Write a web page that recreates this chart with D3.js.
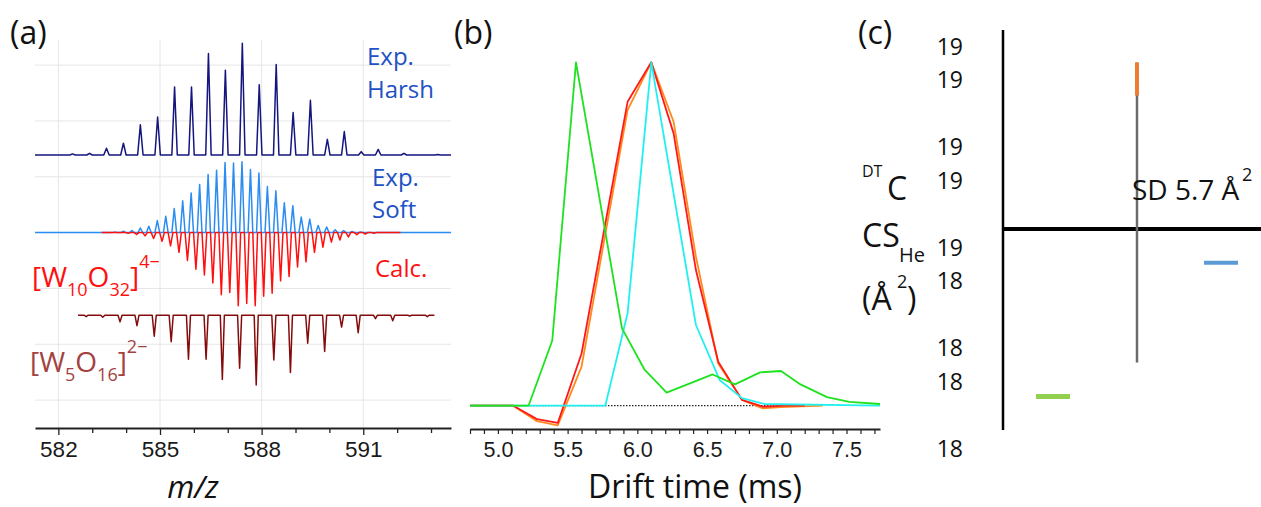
<!DOCTYPE html>
<html><head><meta charset="utf-8">
<script src="https://cdn.jsdelivr.net/npm/d3@7"></script>
<style>body{margin:0;background:#fff} svg{display:block}</style>
</head><body>
<svg id="chart" width="1261" height="507"></svg>
<script>
// ===== Panel (a): isotope peaks (m/z, relative intensity %) =====
const harshMz  = [582.42,582.92,583.42,583.92,584.42,584.93,585.43,585.93,586.43,586.93,587.43,587.93,588.43,588.93,589.44,589.94,590.44,590.94,591.44,592.2,593.2];
const harshInt = [1,1.5,6,10.5,27,34,61,61,91,76,100,63,81,38,49,14,21,3,5,1.5,0.5];
const softMz  = [583.67,583.92,584.17,584.42,584.67,584.92,585.17,585.42,585.67,585.92,586.17,586.42,586.67,586.92,587.17,587.42,587.67,587.92,588.17,588.42,588.67,588.92,589.17,589.42,589.67,589.92,590.17,590.42,590.67,590.92];
const softInt = [1,2,3,6.5,9,17,23,34,45,56,68,82,88,99,98,100,89,84,65,59,42,38,22,19,10,8,4,3,1.5,1];
const calcMz  = [584.06,584.31,584.56,584.81,585.06,585.31,585.56,585.81,586.06,586.31,586.56,586.81,587.06,587.31,587.56,587.81,588.06,588.31,588.56,588.81,589.06,589.31,589.56,589.81,590.06,590.31,590.56,590.81,591.06,591.31];
const calcInt = [1,2.5,4.5,8,12,18,27,38,50,58,69,85,82,100,97,100,87,83,66,60,47,40,27,20,13,10,6,3,2,1];
const w5Mz  = [582.82,583.31,583.82,584.32,584.83,585.33,585.84,586.36,586.84,587.35,587.84,588.36,588.85,589.36,589.86,590.36,590.85,591.36,591.87,592.37,592.89];
const w5Int = [2,3,9.5,15,30,38,63,63,92,76,100,64,82,40,52,17,25,5,8,1,2];
const aTicks = [582,583,584,585,586,587,588,589,590,591,592,593];
const aTickLabels = [582,585,588,591];
const aGridLevels = [0,1,2,3,4,5,6];

// ===== Panel (b): arrival time distributions (normalised) =====
const greenT = [4.80,5.22,5.39,5.56,5.89,6.05,6.21,6.54,6.70,6.88,7.03,7.17,7.36,7.52,7.74];
const greenV = [0,0,0.19,1.0,0.225,0.106,0.038,0.091,0.062,0.097,0.101,0.062,0.025,0.011,0.005];
const redT = [4.80,5.11,5.28,5.43,5.60,5.93,6.10,6.26,6.42,6.58,6.75,6.90,7.06,7.20];
const redV = [0,0,-0.039,-0.05,0.152,0.885,1.0,0.793,0.395,0.128,0.017,-0.003,0,0];
const orangeT = [4.80,5.11,5.28,5.43,5.60,5.93,6.10,6.26,6.42,6.58,6.75,6.90,7.03,7.33];
const orangeV = [0,0,-0.045,-0.057,0.114,0.861,1.0,0.827,0.434,0.123,0.017,-0.008,-0.004,0];
const cyanT = [4.80,5.77,5.93,6.10,6.42,6.59,6.75,6.91,7.74];
const cyanV = [0,0,0.269,1.0,0.235,0.075,0.022,0.005,0];
const baseT = [4.80,7.05];
const baseV = [0,0];
const bTicks = d3.range(48,78).map(d => d/10);
const bTickLabels = [5.0,5.5,6.0,6.5,7.0,7.5];

// ===== Panel (c): CCS values =====
const cCategories = ["A","B","C"];
const cDashValues = {A:18.054, C:18.453};
const cErrLow = 18.155, cErrHigh = 19.051;
const cBarLow = 18.952, cBarHigh = 19.051;
const cAxisCross = 18.554;
const cTickValues = [17.9,18.1,18.2,18.4,18.5,18.7,18.8,19.0,19.1];
const cTickLabels = ["18","18","18","18","19","19","19","19","19"];

const svg = d3.select("#chart");
const SANS = "'Open Sans', sans-serif";
const ARIAL = "'Liberation Sans', Arial, sans-serif";

// ---------------- Panel (a) ----------------
const xA = d3.scaleLinear().domain([581.31,593.59]).range([35,451]);
const yA = d3.scaleLinear().domain([-0.5,6.45]).range([428,40]);
const gA = svg.append("g");
gA.selectAll("line.hg").data(aGridLevels).join("line")
  .attr("x1",xA.range()[0]).attr("x2",xA.range()[1])
  .attr("y1",d=>yA(d)).attr("y2",d=>yA(d))
  .attr("stroke","#e6e6e6").attr("stroke-width",1);
gA.selectAll("line.vg").data(aTickLabels).join("line")
  .attr("x1",d=>xA(d)).attr("x2",d=>xA(d))
  .attr("y1",yA(6.45)).attr("y2",yA(-0.5))
  .attr("stroke","#e6e6e6").attr("stroke-width",1);

function spectrum(mz, inten, base, amp, dir, start, end, w){
  const pts = [[start,0]];
  mz.forEach((m,i)=>{ pts.push([m-w,0],[m,inten[i]],[m+w,0]); });
  pts.push([end,0]);
  return d3.line().x(d=>xA(d[0])).y(d=>yA(base + dir*amp*d[1]/100))(pts);
}
const traces = [
  {mz:harshMz,int:harshInt,base:4.39,amp:2.0,dir:1,s:581.31,e:593.59,w:0.08,c:"#15157f"},
  {mz:softMz,int:softInt,base:3.0,amp:1.27,dir:1,s:581.31,e:593.59,w:0.07,c:"#2b8cf2"},
  {mz:calcMz,int:calcInt,base:3.0,amp:1.31,dir:-1,s:583.28,e:592.1,w:0.07,c:"#ff1010"},
  {mz:w5Mz,int:w5Int,base:1.52,amp:1.25,dir:-1,s:582.58,e:593.1,w:0.06,c:"#850a0a"}
];
traces.forEach(t=>{
  gA.append("path").attr("d",spectrum(t.mz,t.int,t.base,t.amp,t.dir,t.s,t.e,t.w))
    .attr("fill","none").attr("stroke",t.c).attr("stroke-width",1.5).attr("stroke-linejoin","round");
});
const axA = gA.append("g").attr("transform","translate(0,428)")
  .call(d3.axisBottom(xA).tickValues(aTicks).tickSizeOuter(0)
    .tickFormat(d=>aTickLabels.includes(d)?String(d):""));
axA.select(".domain").attr("stroke","#222").attr("stroke-width",2);
axA.selectAll(".tick line").attr("stroke","#222").attr("stroke-width",1.3)
  .attr("y2",d=>aTickLabels.includes(d)?7:5);
axA.selectAll(".tick text").attr("font-family",ARIAL).attr("font-size",22.5)
  .attr("fill","#1a1a1a").attr("y",13).attr("dy","0.71em");

// labels panel (a)
const expC = "#2152c4";
function txt(x,y,s,size,color,extra){
  const t = svg.append("text").attr("x",x).attr("y",y).text(s)
    .attr("font-family",SANS).attr("font-size",size).attr("fill",color);
  if(extra) extra(t);
  return t;
}
txt(10,44,"(a)",32,"#111");
txt(454,44,"(b)",32,"#111");
txt(858,44,"(c)",32,"#111");
txt(367,65,"Exp.",24,expC);
txt(367,98,"Harsh",24,expC);
txt(372,186,"Exp.",24,expC);
txt(372,218,"Soft",24,expC);
txt(375,277,"Calc.",24,"#ff1010");
function formula(x,y,parts,color){
  const t = svg.append("text").attr("x",x).attr("y",y).attr("font-family",SANS).attr("fill",color);
  parts.forEach(p=>{
    t.append("tspan").text(p[0]).attr("font-size",p[1]).attr("dy",p[2]);
  });
}
formula(32,287,[["[W",28,0],["10",18,9],["O",28,-9],["32",18,9],["]",28,-9],["4\u2212",18,-19]],"#ff1010");
formula(30,372,[["[W",28,0],["5",18,9],["O",28,-9],["16",18,9],["]",28,-9],["2\u2212",18,-19]],"#a3423f");
svg.append("text").attr("x",193).attr("y",498).attr("text-anchor","middle")
  .attr("font-family",SANS).attr("font-size",31).attr("font-style","italic").attr("fill","#111").text("m/z");

// ---------------- Panel (b) ----------------
const xB = d3.scaleLinear().domain([4.8,7.74]).range([470,880]);
const yB = d3.scaleLinear().domain([0,1]).range([405.7,62.3]);
const gB = svg.append("g");
const lineB = d3.line().x(d=>xB(d[0])).y(d=>yB(d[1]));
const zipTV = (T,V)=>T.map((t,i)=>[t,V[i]]);
gB.append("path").attr("d",lineB(zipTV(baseT,baseV))).attr("fill","none")
  .attr("stroke","#222").attr("stroke-width",1.2).attr("stroke-dasharray","1.5,1.5");
[[orangeT,orangeV,"#ff8a1c"],[redT,redV,"#ff1a1a"],[cyanT,cyanV,"#22f0f0"],[greenT,greenV,"#1ee21e"]]
  .forEach(([T,V,c])=>{
    gB.append("path").attr("d",lineB(zipTV(T,V))).attr("fill","none")
      .attr("stroke",c).attr("stroke-width",1.8).attr("stroke-linejoin","round");
  });
const axB = gB.append("g").attr("transform","translate(0,429)")
  .call(d3.axisBottom(xB).tickValues(bTicks).tickSizeOuter(0)
    .tickFormat(d=>bTickLabels.some(v=>Math.abs(v-d)<1e-6)?d3.format(".1f")(d):""));
axB.select(".domain").attr("stroke","#222").attr("stroke-width",2);
axB.selectAll(".tick line").attr("stroke","#222").attr("stroke-width",1.2).attr("y2",5);
axB.selectAll(".tick text").attr("font-family",ARIAL).attr("font-size",21.5)
  .attr("fill","#1a1a1a").attr("y",13).attr("dy","0.71em");
svg.append("text").attr("x",695).attr("y",498).attr("text-anchor","middle")
  .attr("font-family",SANS).attr("font-size",32).attr("fill","#111").text("Drift time (ms)");

// ---------------- Panel (c) ----------------
const yC = d3.scaleLinear().domain([17.9,19.1]).range([448,46]);
const xC = d3.scalePoint().domain(cCategories).range([1053,1221]);
const gC = svg.append("g");
gC.append("line").attr("x1",1003).attr("x2",1003).attr("y1",30).attr("y2",430)
  .attr("stroke","#000").attr("stroke-width",2.5);
gC.append("line").attr("x1",1003).attr("x2",1261).attr("y1",yC(cAxisCross)).attr("y2",yC(cAxisCross))
  .attr("stroke","#000").attr("stroke-width",4);
gC.append("line").attr("x1",xC("B")).attr("x2",xC("B")).attr("y1",yC(cErrLow)).attr("y2",yC(cErrHigh))
  .attr("stroke","#6b6b6b").attr("stroke-width",2.5);
gC.append("line").attr("x1",xC("B")).attr("x2",xC("B")).attr("y1",yC(cBarLow)).attr("y2",yC(cBarHigh))
  .attr("stroke","#ED7D31").attr("stroke-width",4);
gC.append("line").attr("x1",xC("A")-17).attr("x2",xC("A")+17).attr("y1",yC(cDashValues.A)).attr("y2",yC(cDashValues.A))
  .attr("stroke","#92D050").attr("stroke-width",5);
gC.append("line").attr("x1",xC("C")-17).attr("x2",xC("C")+17).attr("y1",yC(cDashValues.C)).attr("y2",yC(cDashValues.C))
  .attr("stroke","#5B9BD5").attr("stroke-width",4);
gC.selectAll("text.ct").data(cTickValues).join("text")
  .attr("x",963).attr("y",d=>yC(d)+8.5).attr("text-anchor","end")
  .attr("font-family",SANS).attr("font-size",23).attr("fill","#111")
  .text((d,i)=>cTickLabels[i]);
txt(862,177,"DT",16,"#111");
txt(887,200,"C",32,"#111");
txt(862,247,"CS",32,"#111");
txt(899,262,"He",20,"#111");
txt(862,310,"(Å",32,"#111");
txt(897,288,"2",18,"#111");
txt(907,310,")",32,"#111");
txt(1132,200,"SD 5.7 Å",28,"#111");
txt(1242,181,"2",18,"#111");
</script>
</body></html>
